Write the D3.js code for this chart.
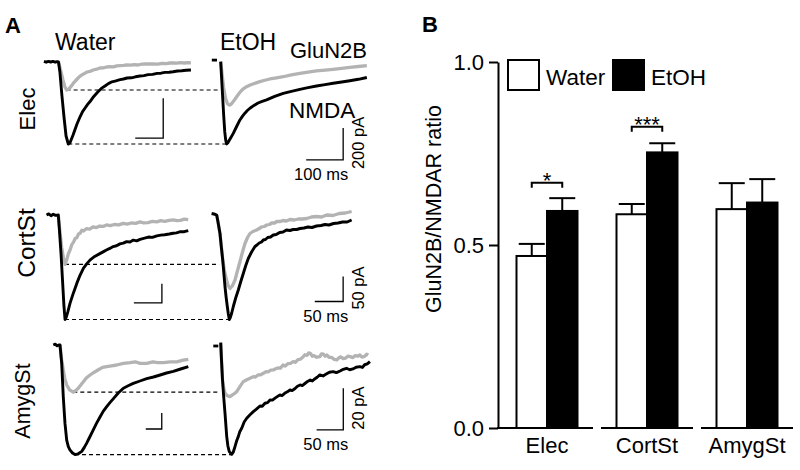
<!DOCTYPE html>
<html><head><meta charset="utf-8">
<script src="https://cdn.jsdelivr.net/npm/d3@7"></script>
<style>
body{margin:0;background:#fff}
svg{display:block}
text{font-family:"Liberation Sans",Arial,Helvetica,sans-serif;fill:#000}
</style>
</head><body>
<svg id="chart" width="800" height="470"></svg>
<script>
// ---------------- Panel B data ----------------
const categories = ["Elec", "CortSt", "AmygSt"];
const seriesNames = ["Water", "EtOH"];
const waterMean = [0.470, 0.584, 0.598];
const waterSem  = [0.033, 0.028, 0.071];
const etohMean  = [0.593, 0.753, 0.616];
const etohSem   = [0.035, 0.025, 0.064];
const yTicks = [0.0, 0.5, 1.0];
const sigLabels = ["*", "***", ""];
const sigLevels = [0.670, 0.823, null];
const yAxisLabel = "GluN2B/NMDAR ratio";

// ---------------- Panel A data (time ms, current pA) ----------------
const rowLabels = ["Elec", "CortSt", "AmygSt"];
const condLabels = ["Water", "EtOH"];
const traceLabels = ["GluN2B", "NMDA"];
const scaleMs = [100, 50, 50];
const scalePA = [200, 50, 20];

const elecWaterNMDA = [[-52,3],[-44,-1],[-36,3],[-28,0],[-20,3],[-12,-1],[-5,2],[0,0],[5,-50],[12,-165],[20,-280],[27,-370],[35,-410],[41,-404],[52,-365],[66,-310],[77,-274],[86,-248],[95,-230],[104,-212],[112,-199],[126,-172],[141,-149],[153,-132],[166,-120],[178,-108],[191,-99],[205,-94],[220,-88],[232,-85],[245,-80],[260,-79],[275,-74],[291,-70],[305,-68],[320,-63],[336,-62],[352,-57],[366,-56],[380,-52],[395,-51],[409,-49],[425,-45],[440,-44],[456,-41],[473,-40]];
const elecWaterGluN2B = [[0,0],[9,-50],[16,-90],[23,-125],[29,-140],[35,-137],[41,-128],[47,-118],[53,-106],[60,-95],[70,-80],[76,-72],[83,-65],[92,-58],[102,-50],[112,-47],[124,-40],[136,-36],[148,-30],[160,-29],[172,-25],[184,-23],[196,-24],[208,-19],[220,-18],[232,-17],[244,-15],[258,-16],[270,-13],[284,-15],[298,-11],[312,-10],[327,-10],[340,-9],[355,-11],[370,-7],[385,-8],[398,-5],[409,-4],[422,-6],[436,-3],[450,-5],[462,-3],[473,-4]];
const elecEtohNMDA = [[0,0],[2,-83],[5,-208],[8,-333],[11,-439],[13.5,-490],[16,-514],[19,-508],[22,-496],[28,-472],[34,-448],[43,-405],[52,-364],[59,-340],[66,-320],[72,-305],[79,-291],[90,-273],[101,-258],[112,-248],[124,-239],[146,-217],[169,-198],[191,-185],[214,-173],[236,-162],[259,-152],[282,-143],[304,-135],[327,-127],[349,-119],[372,-110],[395,-99]];
const elecEtohGluN2B = [[0,0],[4,-83],[8,-164],[13,-227],[18,-261],[23,-271],[27,-268],[31,-258],[37,-240],[43,-219],[49,-200],[55,-183],[62,-168],[70,-156],[78,-147],[87,-139],[96,-132],[106,-125],[119,-116],[133,-108],[151,-101],[169,-94],[191,-82],[214,-73],[236,-65],[259,-58],[282,-53],[304,-48],[327,-42],[349,-36],[372,-30],[395,-24]];
const elecEtohBase = [[-24,10],[-10,10]];

const cortWaterNMDA = [[-21,0],[-17,3],[-13,-2],[-9,2],[-5,-1],[0,0],[2,-39],[5,-105],[7.5,-171],[10,-237],[12,-275],[14,-270],[17,-255],[21,-232],[27,-205],[33,-180],[39,-158],[45,-140],[51,-128],[57,-118],[65,-109],[75,-101],[80,-97],[86,-92],[92,-88],[98,-83],[104,-81],[110,-76],[116,-74],[122,-70],[128,-71],[134,-66],[140,-68],[146,-64],[154,-61],[161,-58],[168,-59],[176,-55],[183,-53],[190,-52],[198,-50],[205,-48],[211,-47],[218,-44],[225,-44],[232,-41]];
const cortWaterGluN2B = [[0,0],[3,-45],[6,-85],[9,-112],[12,-130],[15,-118],[18,-102],[21,-92],[24,-78],[27,-72],[30,-62],[33,-60],[36,-50],[39,-48],[42,-40],[45,-42],[50,-36],[56,-37],[62,-31],[68,-33],[74,-29],[80,-30],[86,-26],[93,-28],[100,-25],[108,-26],[116,-22],[123,-24],[130,-21],[138,-22],[146,-18],[153,-21],[160,-20],[168,-17],[176,-18],[183,-15],[190,-17],[198,-14],[205,-13],[212,-15],[218,-14],[225,-11],[232,-12]];
const cortEtohNMDA = [[-9,3],[-5,2],[-2,1],[0,0],[2.3,-14],[5.8,-37],[8,-62],[10.6,-90],[12.6,-116],[14.6,-143],[16.7,-165],[18.7,-183],[20.5,-198],[22.2,-209],[24,-205],[26.5,-196],[29.3,-183],[33.5,-166],[38.1,-150],[42.5,-133],[46.9,-117],[51.3,-101],[55.7,-87],[61.5,-74],[67.5,-63],[71,-60],[75,-56],[79,-54],[82.2,-50],[86,-49],[90,-45],[95,-44],[99.8,-40],[105,-39],[111,-35],[117,-34],[123,-30],[129,-31],[135,-29],[141,-29],[147,-27],[154,-26],[161,-24],[168,-25],[176,-22],[184,-21],[191,-19],[198,-20],[206,-17],[214,-16],[222,-14],[230,-14],[238,-10]];
const cortEtohGluN2B = [[0,0],[2.3,-14],[5.8,-37],[8,-62],[10.6,-88],[13.5,-110],[16.4,-126],[19.9,-140],[23.5,-147],[27.5,-142],[32.3,-130],[36.5,-112],[41.1,-93],[45.5,-74],[49.9,-57],[54.3,-45],[58.7,-37],[64,-33],[70.5,-30],[75,-27],[79,-24],[84,-23],[88.2,-20],[93,-19],[97,-16],[102,-16],[106,-13],[112,-13],[117,-11],[123,-12],[129,-9],[137,-10],[144,-8],[151,-8],[159,-7],[167,-4],[176,-3],[185,-4],[194,0],[205,-1],[216,3],[227,4],[238,7]];

const amygWaterNMDA = [[-21,0],[-15,1],[-9,-1],[-4,0],[0,0],[5.3,-23],[10.3,-65],[15.6,-98],[20.9,-119],[26,-127],[31,-131],[39,-135],[47,-137],[57,-136],[68,-133],[76,-128],[83,-123],[93,-115],[104,-106],[114,-98],[125,-90],[135,-83],[146,-77],[156,-72],[167,-67],[182,-60],[198,-54],[213,-51],[229,-48],[250,-45],[271,-42],[292,-40],[313,-37.5],[333,-35],[354,-33],[377,-30],[401,-27]];
const amygWaterGluN2B = [[0,0],[5,-18],[10.3,-31],[15,-42],[21,-50],[30,-56],[41.6,-59],[49,-57],[57,-54],[65,-50],[73,-46],[83,-41],[94,-37.5],[107,-34],[120,-31],[133,-28],[146,-27],[161,-26],[177,-25],[198,-23],[219,-22],[235,-21],[250,-23],[271,-23],[290,-21],[305,-22],[323,-22],[345,-21],[365,-21],[385,-19],[401,-18]];
const amygEtohNMDA = [[0,1.6],[1.5,-6.7],[3.4,-16.3],[5.5,-24],[8.1,-32.3],[11.3,-43.5],[13.5,-48],[16.1,-50.7],[20.6,-52],[23.5,-51],[26.8,-48.3],[30,-45.5],[33,-43.5],[36,-41],[39.4,-39.5],[44,-36.5],[48.8,-34.7],[55,-33],[61.2,-31.5],[67,-30.3],[73.7,-28.8],[78,-28.9],[83,-27.5],[88,-27.2],[92.5,-25.9],[97,-26],[102,-25],[106,-24.3],[111,-23.5],[115,-23.8],[120,-22.7],[125,-22],[130,-21.1],[134,-21.4],[139,-20.5],[144,-19.3],[149,-18.7],[153,-19],[158,-18],[163,-17],[168,-16.3],[172,-16.8],[177,-15.7],[181,-15],[186,-13.9],[192,-14.4],[198,-13.5],[204,-12.6],[211,-12.3],[217,-12.8],[224,-12],[230,-11.2],[236,-10.7],[242,-11.4],[248,-11],[254,-10.2],[261,-9.9],[266,-10.3],[270,-9],[275,-8.6],[280,-7.5]];
const amygEtohGluN2B = [[0,1.6],[1.5,-6.7],[3.4,-16.3],[5.5,-20],[8.1,-22.6],[12,-23.8],[17.4,-24.3],[22,-23.5],[26,-22.8],[30,-21.9],[36,-19.5],[42.4,-17.1],[48,-16.3],[55,-15.5],[61.2,-14.7],[65,-14.9],[70,-13.9],[75,-13.8],[80,-13.1],[85,-12.3],[89,-12.4],[94,-11.6],[98.7,-11.5],[103,-10.9],[108,-10.5],[112,-10.6],[117,-9.1],[121,-9.6],[126,-8.5],[131,-8.3],[136,-7.5],[140,-7.8],[145,-6.5],[150,-6.3],[155,-5.1],[158,-4.2],[162,-4.5],[165,-3.3],[168,-3.5],[172,-4.9],[175,-4.6],[180,-5.4],[186,-5.1],[189,-3.8],[192,-3.8],[196,-4.9],[199,-4.3],[204,-5.5],[208,-5.5],[213,-6.4],[218,-6.7],[222,-5.6],[225,-5.2],[230,-6.1],[234,-5.8],[239,-4.9],[243,-5.1],[248,-5.6],[252,-4.6],[257,-4.9],[261,-4.3],[265,-5.3],[270,-5],[274,-3.9],[277,-4.3]];
const amygEtohBase = [[-13.9,0],[-4.5,0]];

// ---------------- layout ----------------
const svg = d3.select("#chart");
const grey = "#b3b3b3";

// panels: pixel origin and pixel-per-unit (ms / pA), scale-bar corner in data units
const panelLayout = [
  {x0:58.5,  y0:62,    kx:0.28,  ky:0.2,   barT:374, barI:-381},
  {x0:220.7, y0:61.7,  kx:0.37,  ky:0.16,  barT:331, barI:-614},
  {x0:58.3,  y0:215,   kx:0.56,  ky:0.38,  barT:185, barI:-231},
  {x0:216.7, y0:215,   kx:0.567, ky:0.5,   barT:223, barI:-173},
  {x0:60,    y0:345,   kx:0.32,  ky:0.8,   barT:318, barI:-105},
  {x0:220.7, y0:346,   kx:0.533, ky:2.083, barT:230, barI:-40.3}
];
const panelTraces = [
  {nmda: elecWaterNMDA, glu: elecWaterGluN2B, base: null},
  {nmda: elecEtohNMDA,  glu: elecEtohGluN2B,  base: elecEtohBase},
  {nmda: cortWaterNMDA, glu: cortWaterGluN2B, base: null},
  {nmda: cortEtohNMDA,  glu: cortEtohGluN2B,  base: null},
  {nmda: amygWaterNMDA, glu: amygWaterGluN2B, base: null},
  {nmda: amygEtohNMDA,  glu: amygEtohGluN2B,  base: amygEtohBase}
];
const panels = panelLayout.map(p => ({
  ...p,
  x: d3.scaleLinear().domain([0, 1]).range([p.x0, p.x0 + p.kx]),
  y: d3.scaleLinear().domain([0, -1]).range([p.y0, p.y0 + p.ky])
}));

const gA = svg.append("g");

// dashed reference lines (water peaks carried across to EtOH)
for (let r = 0; r < 3; r++) {
  const W = panels[2*r], E = panels[2*r+1];
  const wT = panelTraces[2*r], eT = panelTraces[2*r+1];
  const gMin = d3.least(wT.glu, d => d[1]);
  const nMin = d3.least(wT.nmda, d => d[1]);
  const eMin = d3.least(eT.nmda, d => d[1]);
  const yTop = W.y(gMin[1]);
  let xCross = E.x(0);
  const pts = eT.nmda.map(d => [E.x(d[0]), E.y(d[1])]);
  for (let i = 1; i < pts.length; i++) {
    if (pts[i-1][1] <= yTop && pts[i][1] >= yTop) {
      const f = (yTop - pts[i-1][1]) / (pts[i][1] - pts[i-1][1]);
      xCross = pts[i-1][0] + f * (pts[i][0] - pts[i-1][0]);
      break;
    }
  }
  gA.append("line").attr("x1", W.x(gMin[0])).attr("x2", xCross - 4)
    .attr("y1", yTop).attr("y2", yTop)
    .attr("stroke", "#000").attr("stroke-width", 1.2).attr("stroke-dasharray", "4,3");
  const yBot = W.y(nMin[1]);
  gA.append("line").attr("x1", W.x(nMin[0])).attr("x2", E.x(eMin[0]))
    .attr("y1", yBot).attr("y2", yBot)
    .attr("stroke", "#000").attr("stroke-width", 1.2).attr("stroke-dasharray", "4,3");
}

// traces
panels.forEach((P, i) => {
  const T = panelTraces[i];
  const line = d3.line().x(d => P.x(d[0])).y(d => P.y(d[1]));
  gA.append("path").attr("d", line(T.glu)).attr("fill", "none")
    .attr("stroke", grey).attr("stroke-width", 3.3).attr("stroke-linejoin", "round");
  gA.append("path").attr("d", line(T.nmda)).attr("fill", "none")
    .attr("stroke", "#000").attr("stroke-width", 2.9).attr("stroke-linejoin", "round");
  if (T.base) {
    gA.append("path").attr("d", line(T.base)).attr("fill", "none")
      .attr("stroke", "#000").attr("stroke-width", 2.8);
  }
  const r = Math.floor(i / 2);
  const cx = P.x(P.barT), cy = P.y(P.barI);
  const xl = P.x(P.barT - scaleMs[r]), yt = P.y(P.barI + scalePA[r]);
  gA.append("path").attr("d", `M${xl},${cy}H${cx}V${yt}`).attr("fill", "none")
    .attr("stroke", "#000").attr("stroke-width", 1.3);
  if (i % 2 === 1) {
    gA.append("text").attr("x", cx + 5).attr("y", cy + 20).attr("text-anchor", "end")
      .attr("font-size", 16.5).text(scaleMs[r] + " ms");
    gA.append("text").attr("transform", `translate(${cx + 21},${(cy + yt) / 2 - 1}) rotate(-90)`)
      .attr("text-anchor", "middle").attr("font-size", 16.5).text(scalePA[r] + " pA");
  }
});

// panel A labels
gA.append("text").attr("x", 5).attr("y", 33).attr("font-size", 22).attr("font-weight", "bold").text("A");
gA.append("text").attr("x", 55).attr("y", 50).attr("font-size", 23).text(condLabels[0]);
gA.append("text").attr("x", 220).attr("y", 50).attr("font-size", 23).text(condLabels[1]);
gA.append("text").attr("x", 290).attr("y", 58).attr("font-size", 22).text(traceLabels[0]);
gA.append("text").attr("x", 289).attr("y", 118).attr("font-size", 22.5).text(traceLabels[1]);
const rowLabelPos = [[35, 109], [35, 243], [30, 401]];
const rowLabelSize = [22, 24.5, 21.5];
rowLabels.forEach((t, i) => {
  gA.append("text").attr("transform", `translate(${rowLabelPos[i][0]},${rowLabelPos[i][1]}) rotate(-90)`)
    .attr("text-anchor", "middle").attr("font-size", rowLabelSize[i]).text(t);
});

// ---------------- Panel B ----------------
const gB = svg.append("g");
const yB = d3.scaleLinear().domain([0, 1]).range([428, 62]);
const xB = d3.scaleBand().domain(categories).range([497, 797]);
const barW = 30.5;

gB.append("text").attr("x", 422).attr("y", 32).attr("font-size", 22).attr("font-weight", "bold").text("B");

const yAxis = d3.axisLeft(yB).tickValues(yTicks).tickSize(9).tickSizeOuter(0).tickPadding(5)
  .tickFormat(d3.format(".1f"));
const ya = gB.append("g").attr("transform", "translate(498,0)").call(yAxis);
ya.selectAll("path,line").attr("stroke", "#000").attr("stroke-width", 2);
ya.selectAll("text").attr("font-size", 22).attr("font-family", '"Liberation Sans",Arial,sans-serif').attr("fill", "#000");

categories.forEach((c, i) => {
  const x1 = i === 0 ? 497 : xB(c) + 4;
  const x2 = xB(c) + xB.bandwidth() - 4;
  gB.append("line").attr("x1", x1).attr("x2", x2).attr("y1", yB(0)).attr("y2", yB(0))
    .attr("stroke", "#000").attr("stroke-width", 2);
  gB.append("text").attr("x", xB(c) + xB.bandwidth() / 2).attr("y", 453)
    .attr("text-anchor", "middle").attr("font-size", 22).text(c);
});

const barData = [];
categories.forEach((c, i) => {
  barData.push({c, s: 0, m: waterMean[i], e: waterSem[i]});
  barData.push({c, s: 1, m: etohMean[i], e: etohSem[i]});
});
const bx = d => xB(d.c) + xB.bandwidth() / 2 + (d.s === 0 ? -barW : 0);
barData.forEach(d => {
  const cx = bx(d) + barW / 2;
  gB.append("line").attr("x1", cx).attr("x2", cx).attr("y1", yB(d.m)).attr("y2", yB(d.m + d.e))
    .attr("stroke", "#000").attr("stroke-width", 2);
  gB.append("line").attr("x1", cx - 13).attr("x2", cx + 13).attr("y1", yB(d.m + d.e)).attr("y2", yB(d.m + d.e))
    .attr("stroke", "#000").attr("stroke-width", 2);
});
gB.selectAll("rect.bar").data(barData).join("rect").attr("class", "bar")
  .attr("x", bx).attr("width", barW)
  .attr("y", d => yB(d.m)).attr("height", d => yB(0) - yB(d.m))
  .attr("fill", d => d.s === 0 ? "#fff" : "#000").attr("stroke", "#000").attr("stroke-width", 2);

categories.forEach((c, i) => {
  if (sigLevels[i] == null) return;
  const c0 = xB(c) + xB.bandwidth() / 2;
  const xa = c0 - barW / 2, xb = c0 + barW / 2, yy = yB(sigLevels[i]);
  gB.append("path").attr("d", `M${xa},${yy + 5}V${yy}H${xb}V${yy + 5}`).attr("fill", "none")
    .attr("stroke", "#000").attr("stroke-width", 2);
  gB.append("text").attr("x", c0).attr("y", yy + 5).attr("text-anchor", "middle")
    .attr("font-size", 22).text(sigLabels[i]);
});

const legend = [{x: 508, fill: "#fff"}, {x: 613, fill: "#000"}];
legend.forEach((l, i) => {
  gB.append("rect").attr("x", l.x).attr("y", 60).attr("width", 31).attr("height", 30)
    .attr("fill", l.fill).attr("stroke", "#000").attr("stroke-width", 2);
  gB.append("text").attr("x", l.x + 38).attr("y", 85).attr("font-size", 22.5).text(seriesNames[i]);
});

gB.append("text").attr("transform", "translate(441,209) rotate(-90)")
  .attr("text-anchor", "middle").attr("font-size", 21.5).text(yAxisLabel);
</script>
</body></html>
